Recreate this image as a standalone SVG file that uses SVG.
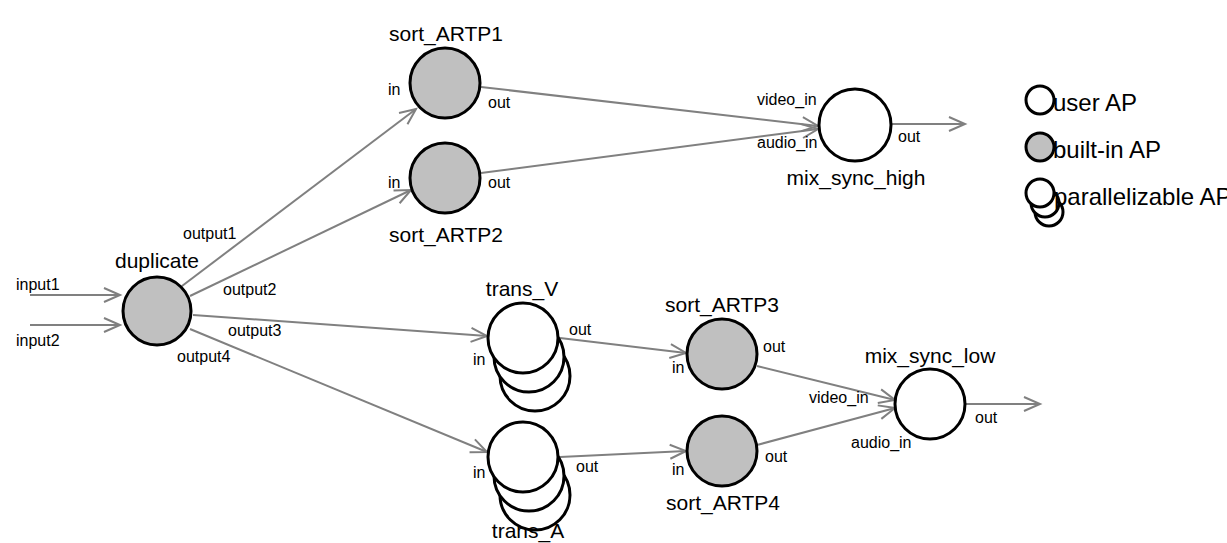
<svg xmlns="http://www.w3.org/2000/svg" width="1227" height="543" viewBox="0 0 1227 543">
<style>
.n{stroke:#000;stroke-width:3;fill:#fff}
.b{fill:#c0c0c0}
.e{stroke:#808080;stroke-width:2;fill:none;marker-end:url(#ah)}
.t{font-family:"Liberation Sans",Arial,sans-serif;font-size:21px;fill:#000}
.l{font-family:"Liberation Sans",Arial,sans-serif;font-size:24px;fill:#000}
.s{font-family:"Liberation Sans",Arial,sans-serif;font-size:16px;fill:#000}
.m{text-anchor:middle}
</style>
<defs>
<marker id="ah" markerUnits="userSpaceOnUse" markerWidth="20" markerHeight="16" refX="17" refY="8" orient="auto" overflow="visible">
<path d="M1,1 L17,8 L1,15" fill="none" stroke="#808080" stroke-width="2"/>
</marker>
</defs>
<rect width="1227" height="543" fill="#fff"/>
<g id="connectors">
<line class="e" x1="30" y1="295" x2="120" y2="295"/>
<line class="e" x1="30" y1="325" x2="120" y2="325"/>
<line class="e" x1="182" y1="286" x2="416" y2="109"/>
<line class="e" x1="190" y1="296" x2="411" y2="190"/>
<line class="e" x1="193" y1="315" x2="487" y2="336"/>
<line class="e" x1="190" y1="329" x2="487" y2="452"/>
<line class="e" x1="481" y1="87" x2="818" y2="126"/>
<line class="e" x1="481" y1="173" x2="818" y2="129"/>
<line class="e" x1="891" y1="124" x2="965" y2="124"/>
<line class="e" x1="560" y1="338" x2="686" y2="353"/>
<line class="e" x1="560" y1="457" x2="686" y2="451"/>
<line class="e" x1="757" y1="366" x2="895" y2="400"/>
<line class="e" x1="757" y1="445" x2="895" y2="408"/>
<line class="e" x1="966" y1="404" x2="1040" y2="404"/>
<text class="s" x="16" y="290">input1</text>
<text class="s" x="16" y="346">input2</text>
<text class="s" x="183" y="239">output1</text>
<text class="s" x="223" y="295">output2</text>
<text class="s" x="228" y="336">output3</text>
<text class="s" x="177" y="362">output4</text>
</g>
<g id="duplicate">
<circle class="n b" cx="157" cy="311" r="34"/>
<text class="t m" x="157" y="268">duplicate</text>
</g>
<g id="sort_ARTP1">
<circle class="n b" cx="445" cy="83" r="35"/>
<text class="t m" x="446" y="41">sort_ARTP1</text>
<text class="s" x="388" y="95">in</text>
<text class="s" x="488" y="108">out</text>
</g>
<g id="sort_ARTP2">
<circle class="n b" cx="445" cy="178" r="35"/>
<text class="t m" x="446" y="242">sort_ARTP2</text>
<text class="s" x="388" y="188">in</text>
<text class="s" x="488" y="188">out</text>
</g>
<g id="mix_sync_high">
<circle class="n" cx="855" cy="125" r="36"/>
<text class="t m" x="856" y="185">mix_sync_high</text>
<text class="s" x="757" y="105">video_in</text>
<text class="s" x="757" y="148">audio_in</text>
<text class="s" x="898" y="142">out</text>
</g>
<g id="trans_V">
<circle class="n" cx="535" cy="376" r="35"/>
<circle class="n" cx="529" cy="357" r="35"/>
<circle class="n" cx="523" cy="338" r="35"/>
<text class="t m" x="522" y="296">trans_V</text>
<text class="s" x="473" y="365">in</text>
<text class="s" x="569" y="335">out</text>
</g>
<g id="trans_A">
<circle class="n" cx="535" cy="495" r="35"/>
<circle class="n" cx="529" cy="476" r="35"/>
<circle class="n" cx="523" cy="457" r="35"/>
<text class="t m" x="528" y="538">trans_A</text>
<text class="s" x="473" y="478">in</text>
<text class="s" x="576" y="472">out</text>
</g>
<g id="sort_ARTP3">
<circle class="n b" cx="722" cy="354" r="35"/>
<text class="t m" x="722" y="312">sort_ARTP3</text>
<text class="s" x="672" y="373">in</text>
<text class="s" x="763" y="352">out</text>
</g>
<g id="sort_ARTP4">
<circle class="n b" cx="722" cy="451" r="35"/>
<text class="t m" x="723" y="510">sort_ARTP4</text>
<text class="s" x="672" y="475">in</text>
<text class="s" x="765" y="462">out</text>
</g>
<g id="mix_sync_low">
<circle class="n" cx="930" cy="404" r="35"/>
<text class="t m" x="930" y="363">mix_sync_low</text>
<text class="s" x="809" y="403">video_in</text>
<text class="s" x="851" y="448">audio_in</text>
<text class="s" x="975" y="423">out</text>
</g>
<g id="legend">
<circle class="n" cx="1040" cy="100" r="14" stroke-width="2.5"/>
<text class="l" x="1053" y="111">user AP</text>
<circle class="n b" cx="1040" cy="147" r="14" stroke-width="2.5"/>
<text class="l" x="1053" y="158">built-in AP</text>
<circle class="n" cx="1049" cy="212" r="14" stroke-width="2.5"/>
<circle class="n" cx="1045" cy="203" r="14" stroke-width="2.5"/>
<circle class="n" cx="1040" cy="193" r="14" stroke-width="2.5"/>
<text class="l" x="1054" y="205">parallelizable AP</text>
</g>
</svg>
